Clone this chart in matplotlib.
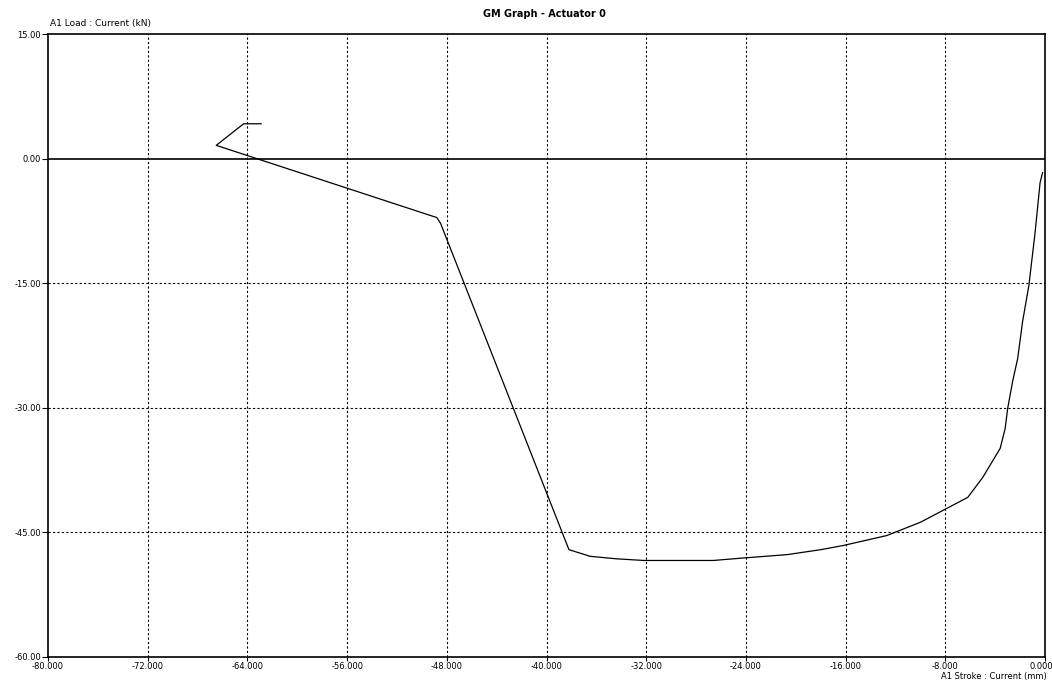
"""GM Graph - Actuator 0 : load vs stroke"""

import matplotlib.pyplot as plt
import matplotlib.transforms as mtransforms

# Stroke (mm) and load (kN)
stroke = [-62.9, -64.3, -66.5, -48.8, -48.5, -38.2, -36.5, -34.4, -32.2, -26.6,
          -24.2, -20.7, -18.0, -16.2, -12.7, -10.0, -6.2, -5.0, -4.2, -3.6,
          -3.2, -3.0, -2.6, -2.2, -1.8, -1.3, -0.8, -0.4, -0.2]
load = [4.2, 4.2, 1.6, -7.1, -7.8, -47.1, -47.9, -48.2, -48.4, -48.4,
        -48.1, -47.7, -47.1, -46.6, -45.4, -43.8, -40.8, -38.4, -36.4, -34.9,
        -32.5, -30.1, -26.8, -24.1, -19.6, -15.3, -8.9, -2.9, -1.7]

x_ticks = [-80, -72, -64, -56, -48, -40, -32, -24, -16, -8, 0]
y_ticks = [15, 0, -15, -30, -45, -60]

fig = plt.figure(figsize=(10.52, 6.82), dpi=100)
ax = fig.add_axes([0.0456, 0.037, 0.9478, 0.913])

ax.plot(stroke, load, color='black', linewidth=0.9)

# zero line is solid, the rest of the grid dotted
ax.axhline(0, color='black', linewidth=1.2)
for xv in x_ticks[1:-1]:
    ax.axvline(xv, color='black', linestyle=(0, (2, 2)), linewidth=0.8)
for yv in [-15, -30, -45]:
    ax.axhline(yv, color='black', linestyle=(0, (2, 2)), linewidth=0.8)

ax.set_xlim(-80, 0)
ax.set_ylim(-60, 15)
ax.set_xticks(x_ticks)
ax.set_xticklabels(['%.3f' % v for v in x_ticks], fontsize=6)
ax.set_yticks(y_ticks)
ax.set_yticklabels(['%.2f' % v for v in y_ticks], fontsize=6)
ax.tick_params(axis='x', length=3, width=0.8, pad=0.5)
ax.tick_params(axis='y', length=4, width=0.8, pad=1)

# last x label sits against the right edge
last = ax.get_xticklabels()[-1]
last.set_horizontalalignment('right')
last.set_transform(last.get_transform() + mtransforms.ScaledTranslation(6 / 72, 0, fig.dpi_scale_trans))

for side in ['left', 'top', 'right', 'bottom']:
    ax.spines[side].set_linewidth(1.2)

fig.text(0.518, 0.980, 'GM Graph - Actuator 0', ha='center', va='center',
         fontsize=7, fontweight='bold')
fig.text(0.048, 0.966, 'A1 Load : Current (kN)', ha='left', va='center', fontsize=6.5)
fig.text(0.995, 0.001, 'A1 Stroke : Current (mm)', ha='right', va='bottom', fontsize=6)

plt.savefig('out.png', dpi=100)
